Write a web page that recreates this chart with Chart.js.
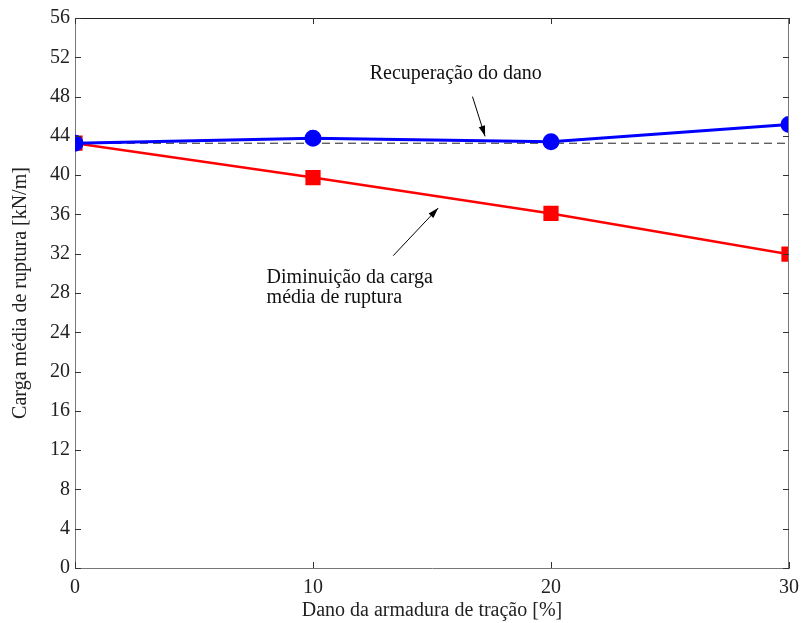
<!DOCTYPE html>
<html>
<head>
<meta charset="utf-8">
<script src="https://cdn.jsdelivr.net/npm/chart.js@4.4.0/dist/chart.umd.min.js"></script>
<style>
  html, body { margin: 0; padding: 0; background: #fff; }
</style>
</head>
<body>
<canvas id="grafico" width="801" height="623"></canvas>
<script>
// dados
const danos = [0, 10, 20, 30];
const recuperacao = [43.25, 43.75, 43.4, 45.15];
const diminuicao = [43.25, 39.75, 36.1, 31.95];
const referencia = 43.25;
const ticksX = [0, 10, 20, 30];
const ticksY = [0, 4, 8, 12, 16, 20, 24, 28, 32, 36, 40, 44, 48, 52, 56];

// anotações (em unidades dos eixos)
const setaRecup = [16.7, 48.0, 17.23, 43.95];
const setaDimin = [13.37, 31.8, 15.26, 36.65];

const fonte = 'Liberation Serif, Times New Roman, serif';

const pontos = (ys) => danos.map((x, i) => ({ x, y: ys[i] }));

const moldura = {
    id: 'moldura',
    afterDatasetsDraw(chart) {
        const { ctx, chartArea: a, scales } = chart;
        ctx.save();
        ctx.strokeStyle = '#222';
        ctx.lineWidth = 1;
        ctx.beginPath();
        ctx.moveTo(a.left, a.top + 0.5); ctx.lineTo(a.right, a.top + 0.5);
        ctx.stroke();
        ctx.strokeStyle = '#777';
        ctx.beginPath();
        ctx.moveTo(a.right - 0.5, a.top); ctx.lineTo(a.right - 0.5, a.bottom);
        ctx.stroke();
        // ticks para dentro
        ctx.strokeStyle = '#333';
        ctx.beginPath();
        ticksY.forEach(v => {
            const y = Math.round(scales.y.getPixelForValue(v)) + 0.5;
            ctx.moveTo(a.left, y); ctx.lineTo(a.left + 6, y);
            ctx.moveTo(a.right, y); ctx.lineTo(a.right - 6, y);
        });
        ticksX.forEach(v => {
            const x = Math.round(scales.x.getPixelForValue(v)) + 0.5;
            ctx.moveTo(x, a.bottom); ctx.lineTo(x, a.bottom - 6);
            ctx.moveTo(x, a.top); ctx.lineTo(x, a.top + 6);
        });
        ctx.stroke();

        // setas
        const seta = (s) => {
            const x1 = scales.x.getPixelForValue(s[0]), y1 = scales.y.getPixelForValue(s[1]);
            const x2 = scales.x.getPixelForValue(s[2]), y2 = scales.y.getPixelForValue(s[3]);
            const ang = Math.atan2(y2 - y1, x2 - x1);
            ctx.strokeStyle = '#000';
            ctx.fillStyle = '#000';
            ctx.lineWidth = 1;
            ctx.beginPath();
            ctx.moveTo(x1, y1); ctx.lineTo(x2, y2);
            ctx.stroke();
            ctx.beginPath();
            ctx.moveTo(x2, y2);
            ctx.lineTo(x2 - 11 * Math.cos(ang - 0.3), y2 - 11 * Math.sin(ang - 0.3));
            ctx.lineTo(x2 - 11 * Math.cos(ang + 0.3), y2 - 11 * Math.sin(ang + 0.3));
            ctx.closePath();
            ctx.fill();
        };
        seta(setaRecup);
        seta(setaDimin);

        ctx.fillStyle = '#111';
        ctx.font = '20px ' + fonte;
        ctx.textBaseline = 'middle';
        ctx.textAlign = 'center';
        ctx.fillText('Recuperação do dano', scales.x.getPixelForValue(16.0), scales.y.getPixelForValue(50.3));
        ctx.textAlign = 'left';
        ctx.fillText('Diminuição da carga', scales.x.getPixelForValue(8.05), scales.y.getPixelForValue(29.6));
        ctx.fillText('média de ruptura', scales.x.getPixelForValue(8.05), scales.y.getPixelForValue(27.5));
        ctx.restore();
    }
};

new Chart(document.getElementById('grafico'), {
    type: 'line',
    data: {
        datasets: [
            {
                data: pontos(recuperacao),
                borderColor: '#0000ff',
                backgroundColor: '#0000ff',
                borderWidth: 3,
                pointStyle: 'circle',
                pointRadius: 7,
                tension: 0
            },
            {
                data: pontos(diminuicao),
                borderColor: '#ff0000',
                backgroundColor: '#ff0000',
                borderWidth: 2.5,
                pointStyle: 'rect',
                pointRadius: 9,
                tension: 0
            },
            {
                data: [{ x: danos[0], y: referencia }, { x: danos[danos.length - 1], y: referencia }],
                borderColor: '#222',
                borderWidth: 1,
                borderDash: [8, 5],
                pointRadius: 0
            }
        ]
    },
    options: {
        responsive: false,
        animation: false,
        layout: { padding: { left: 0, right: 12, top: 18, bottom: 0 } },
        plugins: { legend: { display: false }, tooltip: { enabled: false } },
        scales: {
            x: {
                type: 'linear',
                min: 0, max: 30,
                afterBuildTicks: (s) => { s.ticks = ticksX.map(v => ({ value: v })); },
                afterFit: (s) => { s.height = 55; s.paddingLeft = 0; s.paddingRight = 0; },
                grid: { display: false, drawTicks: false },
                border: { color: '#777', width: 1 },
                ticks: { color: '#222', font: { family: fonte, size: 20 }, padding: 8, maxRotation: 0, autoSkip: false },
                title: { display: true, text: 'Dano da armadura de tração [%]', color: '#222', font: { family: fonte, size: 20 }, padding: { top: 0, bottom: 0 } }
            },
            y: {
                min: 0, max: 56,
                afterBuildTicks: (s) => { s.ticks = ticksY.map(v => ({ value: v })); },
                afterFit: (s) => { s.width = 75; s.paddingTop = 0; s.paddingBottom = 0; },
                grid: { display: false, drawTicks: false },
                border: { color: '#777', width: 1 },
                ticks: { color: '#222', font: { family: fonte, size: 20 }, padding: 5, autoSkip: false },
                title: { display: true, text: 'Carga média de ruptura [kN/m]', color: '#222', font: { family: fonte, size: 20 }, padding: { top: 9, bottom: 0 } }
            }
        }
    },
    plugins: [moldura]
});
</script>
</body>
</html>
